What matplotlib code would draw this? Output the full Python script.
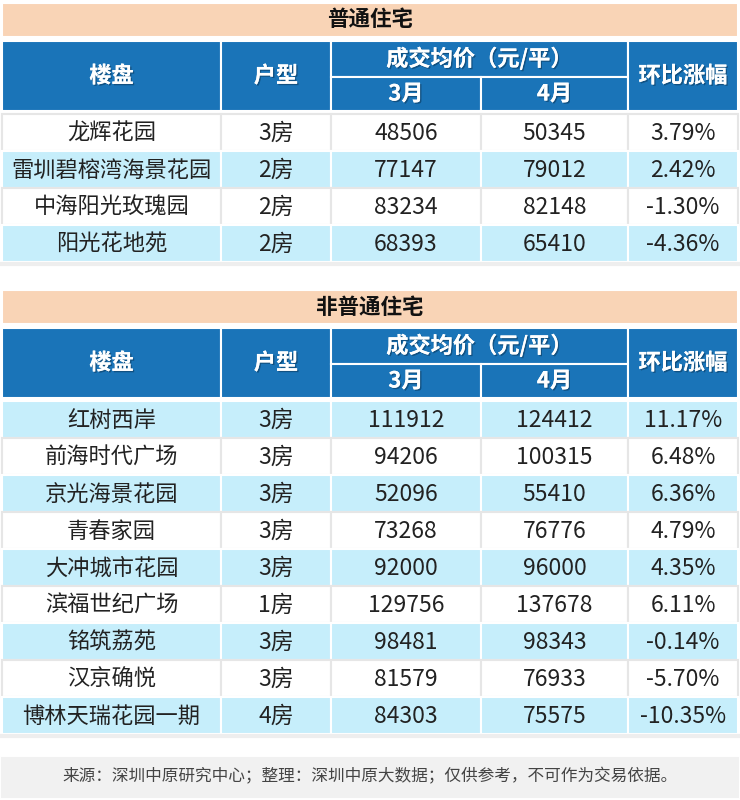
import matplotlib.pyplot as plt
from matplotlib.patches import Rectangle
import matplotlib.patheffects as pe

plt.rcParams['font.family'] = ['Noto Sans CJK SC', 'DejaVu Sans']

# ---- data ----
sec1_title = "普通住宅"
sec1_names = ["龙辉花园", "雷圳碧榕湾海景花园", "中海阳光玫瑰园", "阳光花地苑"]
sec1_types = ["3房", "2房", "2房", "2房"]
sec1_mar = [48506, 77147, 83234, 68393]
sec1_apr = [50345, 79012, 82148, 65410]
sec1_chg = ["3.79%", "2.42%", "-1.30%", "-4.36%"]

sec2_title = "非普通住宅"
sec2_names = ["红树西岸", "前海时代广场", "京光海景花园", "青春家园", "大冲城市花园",
              "滨福世纪广场", "铭筑荔苑", "汉京确悦", "博林天瑞花园一期"]
sec2_types = ["3房", "3房", "3房", "3房", "3房", "1房", "3房", "3房", "4房"]
sec2_mar = [111912, 94206, 52096, 73268, 92000, 129756, 98481, 81579, 84303]
sec2_apr = [124412, 100315, 55410, 76776, 96000, 137678, 98343, 76933, 75575]
sec2_chg = ["11.17%", "6.48%", "6.36%", "4.79%", "4.35%", "6.11%", "-0.14%", "-5.70%", "-10.35%"]

headers = ["楼盘", "户型", "成交均价（元/平）", "3月", "4月", "环比涨幅"]
footer = "来源：深圳中原研究中心；整理：深圳中原大数据；仅供参考，不可作为交易依据。"

# ---- style ----
BLUE = "#1a74b8"
LIGHT = "#c6eefb"
PEACH = "#f9d4b6"
GREY = "#f1f1f1"
TXT = "#222222"

fig = plt.figure(figsize=(7.4, 8.0), dpi=100)
ax = fig.add_axes([0, 0, 1, 1])
ax.set_xlim(0, 740)
ax.set_ylim(800, 0)
ax.axis("off")

cols = [2, 221, 331, 481, 628, 738]
row_h = 37
shadow = [pe.withSimplePatchShadow(offset=(1, -1), shadow_rgbFace="#0b3a5e", alpha=0.6), pe.Normal()]


def cell(x0, x1, y0, y1, color, edge="white"):
    ax.add_patch(Rectangle((x0, y0), x1 - x0, y1 - y0, facecolor=color,
                           edgecolor=edge, linewidth=1.5))


def section(title, names, types, mar, apr, chg, top, first_blue):
    # title band
    cell(cols[0], cols[-1], top, top + 34, PEACH)
    ax.text(370, top + 17, title, ha="center", va="center", fontsize=15.5,
            fontweight="bold", color="#111111")
    h0 = top + 38
    h1 = h0 + 70
    hm = h0 + 36
    # header
    cell(cols[0], cols[1], h0, h1, BLUE)
    cell(cols[1], cols[2], h0, h1, BLUE)
    cell(cols[2], cols[4], h0, hm, BLUE)
    cell(cols[2], cols[3], hm, h1, BLUE)
    cell(cols[3], cols[4], hm, h1, BLUE)
    cell(cols[4], cols[5], h0, h1, BLUE)
    kw = dict(ha="center", va="center", fontsize=16, fontweight="bold",
              color="white", path_effects=shadow)
    ax.text((cols[0] + cols[1]) / 2, (h0 + h1) / 2, headers[0], **kw)
    ax.text((cols[1] + cols[2]) / 2, (h0 + h1) / 2, headers[1], **kw)
    ax.text((cols[2] + cols[4]) / 2, (h0 + hm) / 2, headers[2], **kw)
    ax.text((cols[2] + cols[3]) / 2, (hm + h1) / 2, headers[3], **kw)
    ax.text((cols[3] + cols[4]) / 2, (hm + h1) / 2, headers[4], **kw)
    ax.text((cols[4] + cols[5]) / 2, (h0 + h1) / 2, headers[5], **kw)
    # rows
    y = h1 + 3
    for i in range(len(names)):
        blue = (i % 2 == 0) == first_blue
        color = LIGHT if blue else "white"
        edge = "white" if blue else "#e6e6e6"
        vals = [names[i], types[i], str(mar[i]), str(apr[i]), chg[i]]
        for j in range(5):
            cell(cols[j], cols[j + 1], y, y + row_h, color, edge)
            ax.text((cols[j] + cols[j + 1]) / 2, y + row_h / 2 + 1, vals[j],
                    ha="center", va="center", fontsize=16.5 if j else 16,
                    color=TXT)
        y += row_h
    ax.plot([cols[0], cols[-1]], [y + 2, y + 2], color="#eeeeee", lw=3)


section(sec1_title, sec1_names, sec1_types, sec1_mar, sec1_apr, sec1_chg, 3, False)
section(sec2_title, sec2_names, sec2_types, sec2_mar, sec2_apr, sec2_chg, 290, True)

cell(cols[0], cols[-1], 758, 797, GREY, GREY)
ax.text(370, 777, footer, ha="center", va="center", fontsize=12, color="#444444")

fig.savefig("out.png", dpi=100)
